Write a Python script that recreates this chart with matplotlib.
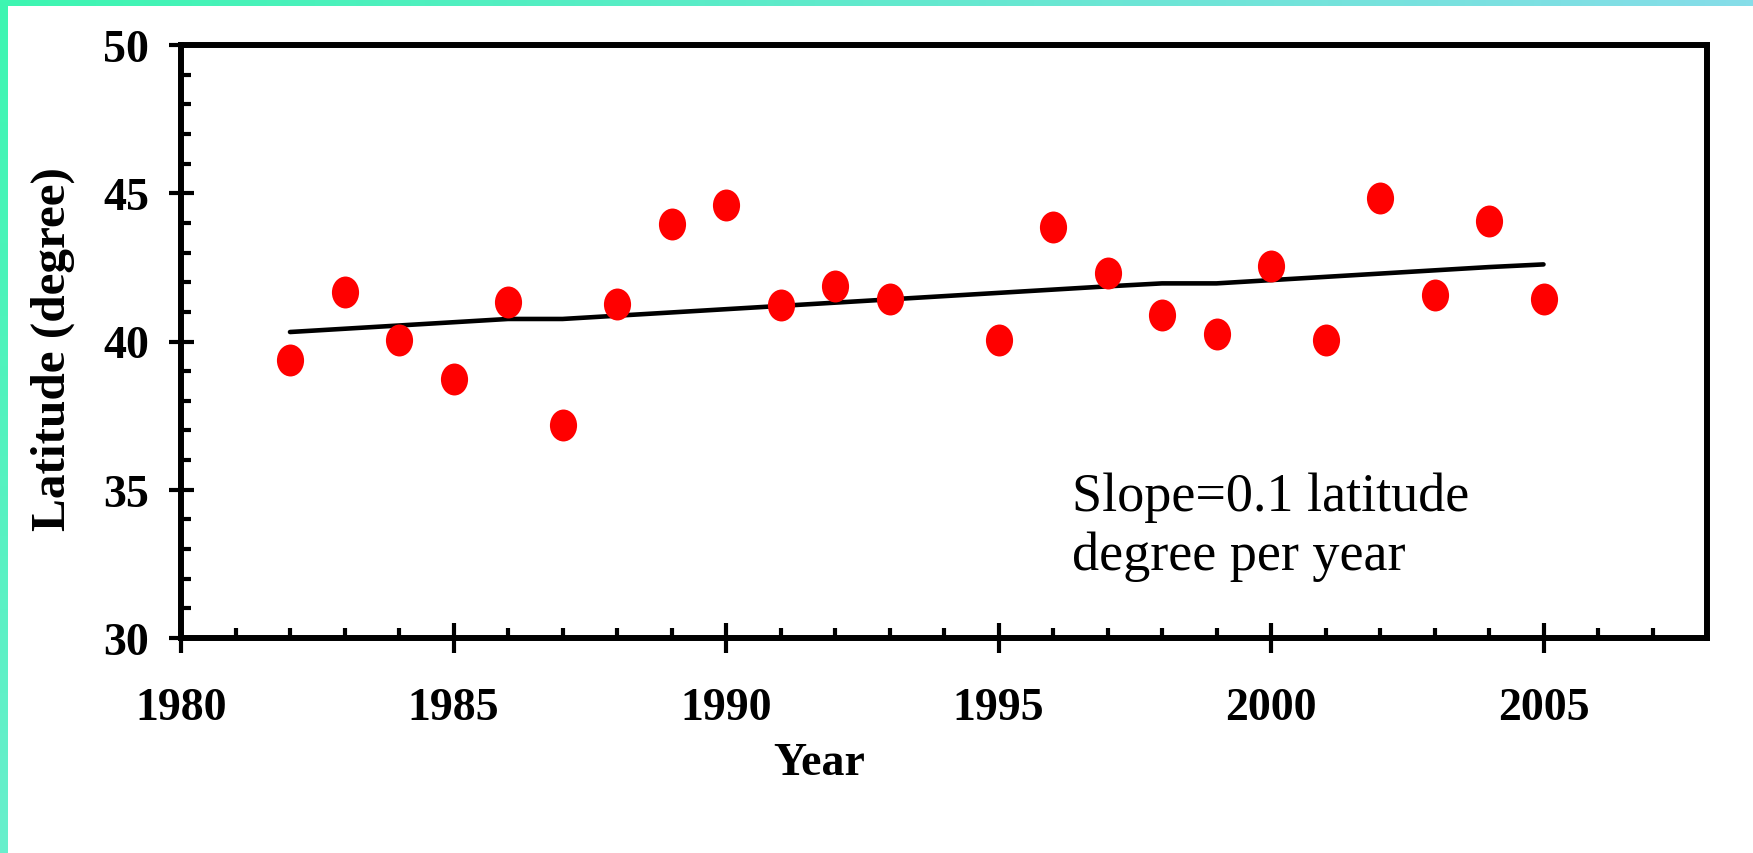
import numpy as np
import matplotlib
matplotlib.use("Agg")
from matplotlib import pyplot as plt
from matplotlib.markers import MarkerStyle
from matplotlib.transforms import Affine2D
from matplotlib.ticker import MultipleLocator
from matplotlib.colors import LinearSegmentedColormap

# data
years = [1982, 1983, 1984, 1985, 1986, 1987, 1988, 1989, 1990, 1991, 1992, 1993,
         1995, 1996, 1997, 1998, 1999, 2000, 2001, 2002, 2003, 2004, 2005]
latitude = [39.39, 41.66, 40.04, 38.73, 41.34, 37.18, 41.26, 43.95, 44.60, 41.24, 41.88, 41.45,
            40.05, 43.85, 42.32, 40.91, 40.26, 42.56, 40.05, 44.83, 41.57, 44.08, 41.45]
trend = [40.32, 40.43, 40.54, 40.65, 40.76, 40.76, 40.87, 40.98, 41.09, 41.20, 41.31, 41.42,
         41.64, 41.75, 41.86, 41.96, 41.96, 42.07, 42.18, 42.29, 42.40, 42.51, 42.60]

x_ticks = [1980, 1985, 1990, 1995, 2000, 2005]
y_ticks = [30, 35, 40, 45, 50]

W, H = 1753, 854


def strip(fig, rect, c0, c1, horizontal):
    bax = fig.add_axes(rect)
    cmap = LinearSegmentedColormap.from_list('edge', [c0, c1])
    g = np.linspace(0, 1, 256)
    g = g[None, :] if horizontal else g[:, None]
    bax.imshow(g, cmap=cmap, aspect='auto', origin='upper' if not horizontal else 'lower')
    bax.axis('off')


def main():
    plt.rcParams['font.family'] = ['Liberation Serif', 'DejaVu Serif']
    fig = plt.figure(figsize=(W / 100, H / 100), dpi=100)

    # gradient edges at top and left
    strip(fig, [0, 1 - 7 / H, 1, 7 / H], '#3df6b1', '#86dde9', True)
    strip(fig, [0, 0, 7 / W, 1], '#3df6b1', '#68efcc', False)

    ax = fig.add_axes([181 / W, 1 - 639 / H, (1707 - 181) / W, (639 - 46) / H])

    ax.plot(years, trend, color='black', lw=3.3, solid_capstyle='round', zorder=2)
    ell = MarkerStyle('o', transform=Affine2D().scale(0.85, 1.0))
    ax.plot(years, latitude, linestyle='none', marker=ell, markersize=23,
            color='#ff0000', markeredgewidth=0, zorder=3)

    ax.set_xlim(1980, 2008)
    ax.set_ylim(30, 50)
    ax.set_xticks(x_ticks)
    ax.set_yticks(y_ticks)
    ax.xaxis.set_minor_locator(MultipleLocator(1))
    ax.yaxis.set_minor_locator(MultipleLocator(1))

    for s in ax.spines.values():
        s.set_linewidth(4.3)
    ax.tick_params(which='major', direction='inout', width=3, labelsize=33)
    ax.tick_params(axis='x', which='major', length=21, pad=25)
    ax.tick_params(axis='y', which='major', length=18, pad=14)
    ax.tick_params(which='minor', direction='in', length=7, width=3)
    for lab in ax.get_xticklabels() + ax.get_yticklabels():
        lab.set_fontweight('bold')

    ax.set_xlabel('Year', fontsize=33, fontweight='bold', ha='center', va='top')
    ax.xaxis.set_label_coords((819 - 181) / 1526, (639 - 743) / 593)
    ax.set_ylabel('Latitude (degree)', fontsize=35.5, fontweight='bold')
    ax.yaxis.set_label_coords((75 - 181) / 1526, (639 - 349) / 593)

    ax.text(1996.35, 35.63, 'Slope=0.1 latitude\ndegree per year', fontsize=39,
            va='top', ha='left', linespacing=1.22)

    fig.savefig('out.png', dpi=100)


if __name__ == "__main__":
    main()
